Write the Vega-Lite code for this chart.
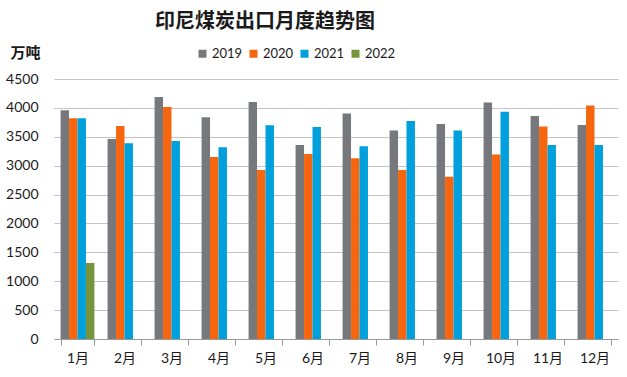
{
  "$schema": "https://vega.github.io/schema/vega-lite/v6.json",
  "width": 564,
  "height": 260,
  "autosize": {"type": "none"},
  "padding": {"left": 54, "top": 79, "right": 9, "bottom": 38},
  "background": "white",
  "title": {
    "text": "印尼煤炭出口月度趋势图",
    "font": "Noto Sans CJK SC",
    "fontSize": 20,
    "fontWeight": "bold",
    "color": "#1a1a1a",
    "anchor": "middle",
    "frame": "group",
    "dx": -71,
    "offset": 13
  },
  "data": {
    "values": [
      {"month": "1月", "year": "2019", "value": 3960},
      {"month": "1月", "year": "2020", "value": 3820},
      {"month": "1月", "year": "2021", "value": 3820},
      {"month": "1月", "year": "2022", "value": 1315},
      {"month": "2月", "year": "2019", "value": 3460},
      {"month": "2月", "year": "2020", "value": 3685},
      {"month": "2月", "year": "2021", "value": 3390},
      {"month": "3月", "year": "2019", "value": 4187},
      {"month": "3月", "year": "2020", "value": 4014},
      {"month": "3月", "year": "2021", "value": 3425},
      {"month": "4月", "year": "2019", "value": 3840},
      {"month": "4月", "year": "2020", "value": 3150},
      {"month": "4月", "year": "2021", "value": 3320},
      {"month": "5月", "year": "2019", "value": 4100},
      {"month": "5月", "year": "2020", "value": 2924},
      {"month": "5月", "year": "2021", "value": 3700},
      {"month": "6月", "year": "2019", "value": 3356},
      {"month": "6月", "year": "2020", "value": 3200},
      {"month": "6月", "year": "2021", "value": 3668},
      {"month": "7月", "year": "2019", "value": 3905},
      {"month": "7月", "year": "2020", "value": 3130},
      {"month": "7月", "year": "2021", "value": 3334},
      {"month": "8月", "year": "2019", "value": 3610},
      {"month": "8月", "year": "2020", "value": 2924},
      {"month": "8月", "year": "2021", "value": 3772},
      {"month": "9月", "year": "2019", "value": 3720},
      {"month": "9月", "year": "2020", "value": 2808},
      {"month": "9月", "year": "2021", "value": 3610},
      {"month": "10月", "year": "2019", "value": 4095},
      {"month": "10月", "year": "2020", "value": 3195},
      {"month": "10月", "year": "2021", "value": 3933},
      {"month": "11月", "year": "2019", "value": 3858},
      {"month": "11月", "year": "2020", "value": 3680},
      {"month": "11月", "year": "2021", "value": 3356},
      {"month": "12月", "year": "2019", "value": 3702},
      {"month": "12月", "year": "2020", "value": 4043},
      {"month": "12月", "year": "2021", "value": 3356}
    ]
  },
  "mark": {"type": "bar"},
  "encoding": {
    "x": {
      "field": "month",
      "type": "nominal",
      "sort": ["1月","2月","3月","4月","5月","6月","7月","8月","9月","10月","11月","12月"],
      "scale": {"paddingInner": 0.28, "paddingOuter": 0.14},
      "axis": {
        "title": null,
        "labelAngle": 0,
        "labelFont": "Lato, Noto Sans CJK SC",
        "labelFontSize": 14,
        "labelColor": "#1a1a1a",
        "labelPadding": 6,
        "tickBand": "extent",
        "ticks": true,
        "tickSize": 6,
        "tickColor": "#999999",
        "domainColor": "#999999",
        "grid": false
      }
    },
    "xOffset": {
      "field": "year",
      "type": "nominal",
      "scale": {"domain": ["2019","2020","2021","2022"], "paddingInner": 0, "paddingOuter": 0}
    },
    "y": {
      "field": "value",
      "type": "quantitative",
      "scale": {"domain": [0, 4500], "nice": false},
      "axis": {
        "title": "万吨",
        "titleAngle": 0,
        "titleX": -44,
        "titleY": -27,
        "titleAlign": "left",
        "titleBaseline": "middle",
        "titleFont": "Noto Sans CJK SC",
        "titleFontSize": 15,
        "titleFontWeight": "bold",
        "titleColor": "#1a1a1a",
        "values": [0,500,1000,1500,2000,2500,3000,3500,4000,4500],
        "format": "d",
        "labelFont": "Lato",
        "labelFontSize": 14,
        "labelColor": "#1a1a1a",
        "labelPadding": 16,
        "ticks": false,
        "domain": false,
        "grid": true,
        "gridColor": "#c4c4c4",
        "gridWidth": 1
      }
    },
    "color": {
      "field": "year",
      "type": "nominal",
      "scale": {"domain": ["2019","2020","2021","2022"], "range": ["#77787b","#f7660f","#00a0dc","#77933c"]},
      "legend": {
        "title": null,
        "orient": "none",
        "direction": "horizontal",
        "legendX": 142,
        "legendY": -32,
        "padding": 0,
        "symbolType": "square",
        "symbolSize": 64,
        "symbolStrokeWidth": 0,
        "labelFont": "Lato",
        "labelFontSize": 13,
        "labelColor": "#1a1a1a",
        "labelOffset": 3,
        "columnPadding": 4
      }
    }
  },
  "config": {"view": {"stroke": null}}
}
